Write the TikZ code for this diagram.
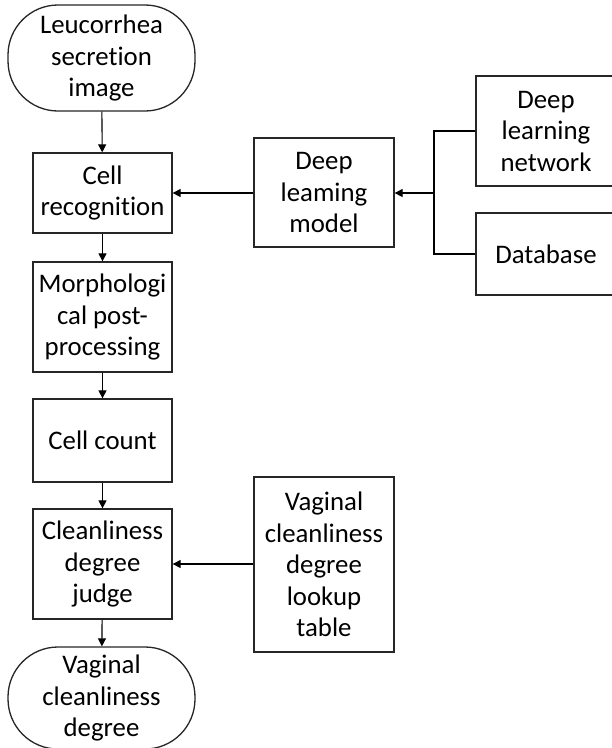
\documentclass[tikz,border=0pt]{standalone}
\usepackage{fontspec}
\setmainfont{Carlito}[Ligatures=NoCommon]
\usetikzlibrary{arrows.meta}
\begin{document}
\begin{tikzpicture}[x=1pt,y=-1pt,
  base/.style={draw=black!85,line width=1.3pt,fill=white,align=center,
    inner sep=0pt,font=\fontsize{26.8}{31.5}\selectfont},
  procbox/.style={base,minimum width=139pt},
  termbox/.style={base,rounded corners=50pt,minimum width=187pt},
  conn/.style={draw=black,line width=1.1pt},
  arr/.style={conn,-{Triangle[length=8pt,width=8pt]}}]
\useasboundingbox (0,0) rectangle (612,748);
\clip (0,0) rectangle (612,748);
\node[termbox,minimum height=106pt] (t1) at (101.5,58) {Leucorrhea\\secretion\\image};
\node[procbox,minimum height=80pt] (cr) at (102.5,193) {Cell\\recognition};
\node[procbox,minimum height=110pt] (mp) at (102.5,317) {Morphologi\\cal post-\\processing};
\node[procbox,minimum height=83pt] (cc) at (102.5,440.5) {Cell count};
\node[procbox,minimum height=110pt] (cj) at (102.5,564) {Cleanliness\\degree\\judge};
\node[termbox,minimum height=102pt] (t2) at (101.5,698) {Vaginal\\cleanliness\\degree};
\node[procbox,minimum height=109pt,minimum width=140pt] (dlm) at (324,192.5) {Deep\\leaming\\model};
\node[procbox,minimum height=110pt,minimum width=140pt] (dln) at (546,131) {Deep\\learning\\network};
\node[procbox,minimum height=82pt,minimum width=140pt] (db) at (546,254) {Database};
\node[procbox,minimum height=175pt,minimum width=140pt] (lut) at (324,564.5) {Vaginal\\cleanliness\\degree\\lookup\\table};
\coordinate (br) at (434,193);
\draw[arr] (t1) -- (cr);
\draw[arr] (cr) -- (mp);
\draw[arr] (mp) -- (cc);
\draw[arr] (cc) -- (cj);
\draw[arr] (cj) -- (t2);
\draw[arr] (dlm.west |- cr.east) -- (cr.east);
\draw[arr] (br) -- (dlm.east |- br);
\draw[conn] (dln.west) -| (br);
\draw[conn] (db.west) -| (br);
\draw[arr] (lut.west |- cj.east) -- (cj.east);
\end{tikzpicture}
\end{document}
